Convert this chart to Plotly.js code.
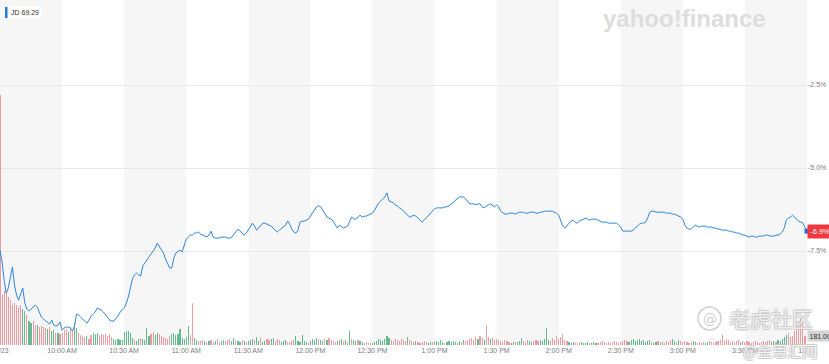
<!DOCTYPE html>
<html><head><meta charset="utf-8">
<script src="https://cdn.plot.ly/plotly-3.0.1.min.js"></script>
<style>html,body{margin:0;padding:0;background:#fff;overflow:hidden}#chart{width:829px;height:364px}</style>
</head><body><div id="chart"></div>
<script>
// ---------- data ----------
const symbol = 'JD';
const lastPrice = '69.29';
const lastVolumeLabel = '181.00K';
// % change vs previous close, one value per minute from 9:30 to 16:00
const pctChange = [
 -7.47,-7.83,-8.37,-8.77,-8.61,-8.31,-7.98,-8.52,-8.83,-8.98,
 -8.77,-8.61,-9.07,-9.25,-9.31,-9.25,-9.19,-9.13,-9.19,-9.34,
 -9.49,-9.55,-9.61,-9.64,-9.70,-9.58,-9.73,-9.76,-9.73,-9.64,
 -9.88,-9.82,-9.79,-9.79,-9.82,-9.91,-9.76,-9.40,-9.43,-9.49,
 -9.55,-9.61,-9.67,-9.58,-9.46,-9.40,-9.34,-9.22,-9.25,-9.28,
 -9.34,-9.40,-9.49,-9.58,-9.61,-9.61,-9.55,-9.46,-9.34,-9.28,
 -9.22,-9.07,-8.89,-8.61,-8.34,-8.22,-8.16,-8.22,-8.25,-7.95,
 -7.86,-7.74,-7.65,-7.59,-7.50,-7.41,-7.26,-7.35,-7.44,-7.56,
 -7.74,-7.89,-8.01,-8.01,-7.71,-7.56,-7.50,-7.47,-7.53,-7.35,
 -7.14,-7.08,-7.02,-7.02,-6.96,-6.96,-6.93,-6.99,-7.02,-7.05,
 -7.08,-7.02,-6.90,-7.08,-7.11,-7.11,-7.11,-7.08,-7.08,-7.08,
 -7.11,-7.11,-7.08,-6.99,-6.93,-6.84,-6.90,-6.96,-7.02,-6.96,
 -6.87,-6.78,-6.66,-6.75,-6.87,-6.81,-6.72,-6.66,-6.66,-6.69,
 -6.72,-6.75,-6.81,-6.87,-6.93,-6.87,-6.81,-6.78,-6.72,-6.60,
 -6.69,-6.84,-6.93,-6.96,-6.87,-6.63,-6.60,-6.60,-6.57,-6.54,
 -6.45,-6.36,-6.27,-6.17,-6.14,-6.17,-6.27,-6.39,-6.48,-6.51,
 -6.54,-6.60,-6.69,-6.81,-6.72,-6.78,-6.81,-6.78,-6.75,-6.60,
 -6.48,-6.54,-6.54,-6.48,-6.42,-6.48,-6.45,-6.45,-6.42,-6.39,
 -6.36,-6.27,-6.14,-6.05,-5.99,-5.93,-5.87,-5.75,-5.99,-6.02,
 -6.05,-6.11,-6.14,-6.20,-6.23,-6.30,-6.36,-6.42,-6.48,-6.45,
 -6.42,-6.45,-6.51,-6.57,-6.63,-6.57,-6.51,-6.42,-6.36,-6.30,
 -6.23,-6.20,-6.20,-6.20,-6.20,-6.17,-6.17,-6.14,-6.08,-6.02,
 -5.96,-5.90,-5.87,-5.87,-5.87,-5.93,-6.02,-6.08,-6.08,-6.08,
 -6.11,-6.08,-6.08,-6.17,-6.20,-6.14,-6.11,-6.08,-6.14,-6.17,
 -6.11,-6.17,-6.30,-6.36,-6.39,-6.39,-6.36,-6.36,-6.36,-6.39,
 -6.36,-6.33,-6.33,-6.33,-6.36,-6.36,-6.33,-6.33,-6.33,-6.36,
 -6.36,-6.33,-6.33,-6.30,-6.30,-6.30,-6.30,-6.30,-6.33,-6.36,
 -6.42,-6.60,-6.75,-6.81,-6.72,-6.66,-6.60,-6.57,-6.63,-6.66,
 -6.60,-6.57,-6.54,-6.51,-6.54,-6.57,-6.54,-6.54,-6.54,-6.57,
 -6.60,-6.63,-6.63,-6.63,-6.66,-6.66,-6.66,-6.66,-6.66,-6.72,
 -6.78,-6.90,-6.90,-6.90,-6.90,-6.90,-6.87,-6.81,-6.72,-6.69,
 -6.66,-6.66,-6.63,-6.51,-6.33,-6.30,-6.30,-6.33,-6.33,-6.33,
 -6.33,-6.33,-6.36,-6.36,-6.36,-6.39,-6.39,-6.42,-6.45,-6.48,
 -6.54,-6.72,-6.81,-6.84,-6.84,-6.78,-6.72,-6.75,-6.78,-6.75,
 -6.75,-6.75,-6.78,-6.78,-6.78,-6.81,-6.81,-6.84,-6.84,-6.87,
 -6.87,-6.87,-6.90,-6.90,-6.93,-6.93,-6.96,-6.96,-6.99,-7.02,
 -7.02,-7.05,-7.08,-7.05,-7.05,-7.08,-7.08,-7.05,-7.05,-7.05,
 -7.02,-7.02,-7.05,-7.05,-7.05,-7.02,-7.02,-6.99,-6.93,-6.81,
 -6.57,-6.51,-6.48,-6.42,-6.48,-6.57,-6.60,-6.63,-6.66,-6.78,
 -6.90
];
// volume per minute, thousands of shares
const volumeK = [
 5000,1000,1080,1040,960,900,800,840,800,760,
 800,720,680,600,480,440,480,400,400,360,
 380,360,340,320,360,280,300,240,240,220,
 240,300,320,260,360,280,440,340,240,200,
 180,160,180,120,200,240,220,240,200,220,
 200,220,180,220,160,120,100,120,100,100,
 260,280,280,240,140,100,80,120,140,120,
 100,340,180,220,260,200,240,220,180,160,
 140,120,180,220,240,200,220,320,140,120,
 160,380,200,840,140,100,80,80,100,80,
 60,80,100,60,80,120,60,80,100,80,
 100,120,80,140,100,80,60,100,80,60,
 80,100,120,100,160,80,140,60,80,120,
 100,120,140,80,120,100,60,80,100,60,
 60,80,100,180,80,60,200,80,60,40,
 80,120,100,140,120,100,80,120,100,140,
 100,80,60,80,100,120,80,100,60,280,
 120,100,80,100,80,60,40,60,40,40,
 40,60,80,120,100,80,120,180,140,100,
 80,120,100,80,120,100,80,160,100,80,
 60,80,60,40,60,80,60,40,60,60,
 60,80,60,100,60,40,60,80,60,80,
 60,40,80,60,100,80,100,120,140,100,
 160,120,180,140,100,400,160,120,140,100,
 120,100,80,60,100,80,60,40,60,60,
 60,80,140,80,60,100,80,60,80,100,
 80,100,80,120,340,100,80,140,100,180,
 120,160,220,100,80,60,40,60,40,40,
 40,60,40,40,60,40,40,60,40,40,
 60,80,60,40,60,40,60,80,60,40,
 60,80,100,80,60,100,120,80,100,120,
 80,100,60,80,100,60,40,60,80,60,
 60,40,80,60,100,120,80,60,100,80,
 60,80,60,40,60,80,60,40,60,40,
 60,40,60,80,60,40,60,80,100,200,
 80,120,100,60,80,60,80,100,60,80,
 60,80,60,40,60,80,60,40,60,80,
 60,80,100,60,80,60,100,80,120,160,
 200,240,160,180,280,400,480,560,440,181
];
// bar direction per minute: u = up (green), d = down (red)
const barDirection = [
 'dddddddddd','duuduuddud','ddduduudud','dddudduudd','ddudduuudd',
 'ddddduuuuu','uuuuuduudu','uuudduuddd','ddduuuuuuu','uudduudddu',
 'duddudduud','dduuduudud','uuuduuduud','duuddduuud','ddduuuuuud',
 'uuuuduudud','dddudududu','duuduudddd','uuuuuuuuud','dddddddudd',
 'duddddduud','uuuuuduuuu','uuududdddd','dudduddudd','ddddddduud',
 'uuuddduudd','duuuuudddd','ddddduuudd','duuuuduuud','dddddddddd',
 'dddduuuuuu','uuuuuduudd','udddduudud','ddddduuddd','duuddddddd',
 'ddddddddud','dddddddddd','ddduuduuuu','uddddddddd'
].join('');
const tickMinutes = [0,30,60,90,120,150,180,210,240,270,300,330,360,390];
const tickLabels = ['12/23','10:00 AM','10:30 AM','11:00 AM','11:30 AM','12:00 PM','12:30 PM',
  '1:00 PM','1:30 PM','2:00 PM','2:30 PM','3:00 PM','3:30 PM','12/24'];
const pctTicks = [-2.5,-5.0,-7.5];
const pctTickLabels = ['-2.5%','-5.0%','-7.5%'];

// ---------- build ----------
const minutes = pctChange.map((_, i) => i);
const volMinutes = volumeK.map((_, i) => i);
const UP = 'rgba(38,160,100,0.7)', DOWN = 'rgba(230,80,95,0.55)';
const barColors = volumeK.map((_, i) => barDirection[i] === 'u' ? UP : DOWN);
const last = pctChange.length - 1;

const W = 807, H = 345;
const px = v => v / W, py = v => 1 - v / H;

const shapes = [];
for (let s = 0; s < 390; s += 60) {
  shapes.push({type:'rect', xref:'x', yref:'paper', x0:s, x1:s + 30, y0:0, y1:1,
    fillcolor:'#f6f6f6', line:{width:0}, layer:'below'});
}
// legend chip bar
shapes.push({type:'rect', xref:'paper', yref:'paper', x0:px(5), x1:px(7.5), y0:py(18), y1:py(7),
  fillcolor:'#1f7fe0', line:{width:0}, layer:'above'});
// right date label is clipped at the plot edge
shapes.push({type:'rect', xref:'paper', yref:'paper', x0:1, x1:1.1, y0:-0.2, y1:-0.002,
  fillcolor:'#ffffff', line:{width:0}, layer:'above'});
// watermark logo circle
shapes.push({type:'circle', xref:'paper', yref:'paper', x0:px(698), x1:px(721), y0:py(330), y1:py(307),
  line:{color:'#d0d0d0', width:1.5}, fillcolor:'rgba(255,255,255,0)', layer:'above'});

const outline = '-1px -1px 0 #c4c4c4, 1px -1px 0 #c4c4c4, -1px 1px 0 #c4c4c4, 1px 1px 0 #c4c4c4';
const annotations = [
  {xref:'paper', yref:'paper', x:px(8), y:py(12.5), xanchor:'left', yanchor:'middle', showarrow:false,
   text:symbol + ' ' + lastPrice, font:{size:7, color:'#333'}, bgcolor:'#ffffff', borderpad:2},
  {xref:'paper', yref:'y2', x:1, y:pctChange[last], xanchor:'left', yanchor:'middle', xshift:0, showarrow:false,
   text:pctChange[last].toFixed(1) + '%', font:{size:7.5, color:'#ffffff'}, bgcolor:'#f0383d', borderpad:2.2},
  {xref:'paper', yref:'y', x:1, y:volumeK[volumeK.length - 1], xanchor:'left', yanchor:'middle', xshift:0, showarrow:false,
   text:lastVolumeLabel, font:{size:7, color:'#333'}, bgcolor:'#d4d4d4', borderpad:1.5},
  {xref:'paper', yref:'paper', x:px(684), y:py(18), xanchor:'center', yanchor:'middle', showarrow:false,
   text:'yahoo!finance', font:{family:'Liberation Sans, Arial, sans-serif', size:24, color:'#dddddd', weight:'bold'}},
  {xref:'paper', yref:'paper', x:px(709.5), y:py(318.5), xanchor:'center', yanchor:'middle', showarrow:false,
   text:'@', font:{family:'DejaVu Sans', size:14, color:'#d0d0d0'}},
  {xref:'paper', yref:'paper', x:px(771), y:py(318), xanchor:'center', yanchor:'middle', showarrow:false,
   text:'老虎社区', font:{family:'Noto Sans CJK SC', size:21, color:'rgba(255,255,255,0.6)', shadow:outline}},
  {xref:'paper', yref:'paper', x:px(780), y:py(350), xanchor:'center', yanchor:'middle', showarrow:false,
   text:'@金思汇网', font:{family:'Noto Sans CJK SC', size:15, color:'rgba(255,255,255,0.6)', shadow:outline}}
];

const traces = [
  {type:'bar', x:volMinutes, y:volumeK, yaxis:'y', marker:{color:barColors, line:{width:0}}, width:0.55, hoverinfo:'skip'},
  {type:'scatter', mode:'lines', x:minutes, y:pctChange, yaxis:'y2', line:{color:'#2f86de', width:1}, hoverinfo:'skip'},
  {type:'scatter', mode:'markers', x:[minutes[last]], y:[pctChange[last]], yaxis:'y2', cliponaxis:false,
   marker:{symbol:'square', size:5, color:'#1f6fd6'}, hoverinfo:'skip'}
];

const layout = {
  width:829, height:364, margin:{l:0, r:22, t:0, b:19},
  paper_bgcolor:'#ffffff', plot_bgcolor:'#ffffff', showlegend:false, bargap:0,
  font:{family:'Liberation Sans, Arial, sans-serif', size:7, color:'#808080'},
  xaxis:{range:[0,390], tickvals:tickMinutes, ticktext:tickLabels, tickfont:{size:7, color:'#7d7d7d'},
    ticklabeloverflow:'allow', showgrid:false, zeroline:false, showline:false, ticks:'', fixedrange:true},
  yaxis:{range:[0, 6900], visible:false, fixedrange:true},
  yaxis2:{overlaying:'y', side:'right', range:[-10.33, 0.06], tickvals:pctTicks, ticktext:pctTickLabels,
    tickfont:{size:7, color:'#7d7d7d'}, showgrid:true, gridcolor:'#e8e8e8', gridwidth:1,
    zeroline:false, showline:false, ticks:'', fixedrange:true},
  shapes:shapes, annotations:annotations
};
Plotly.newPlot('chart', traces, layout, {staticPlot:true, displayModeBar:false});
</script></body></html>
